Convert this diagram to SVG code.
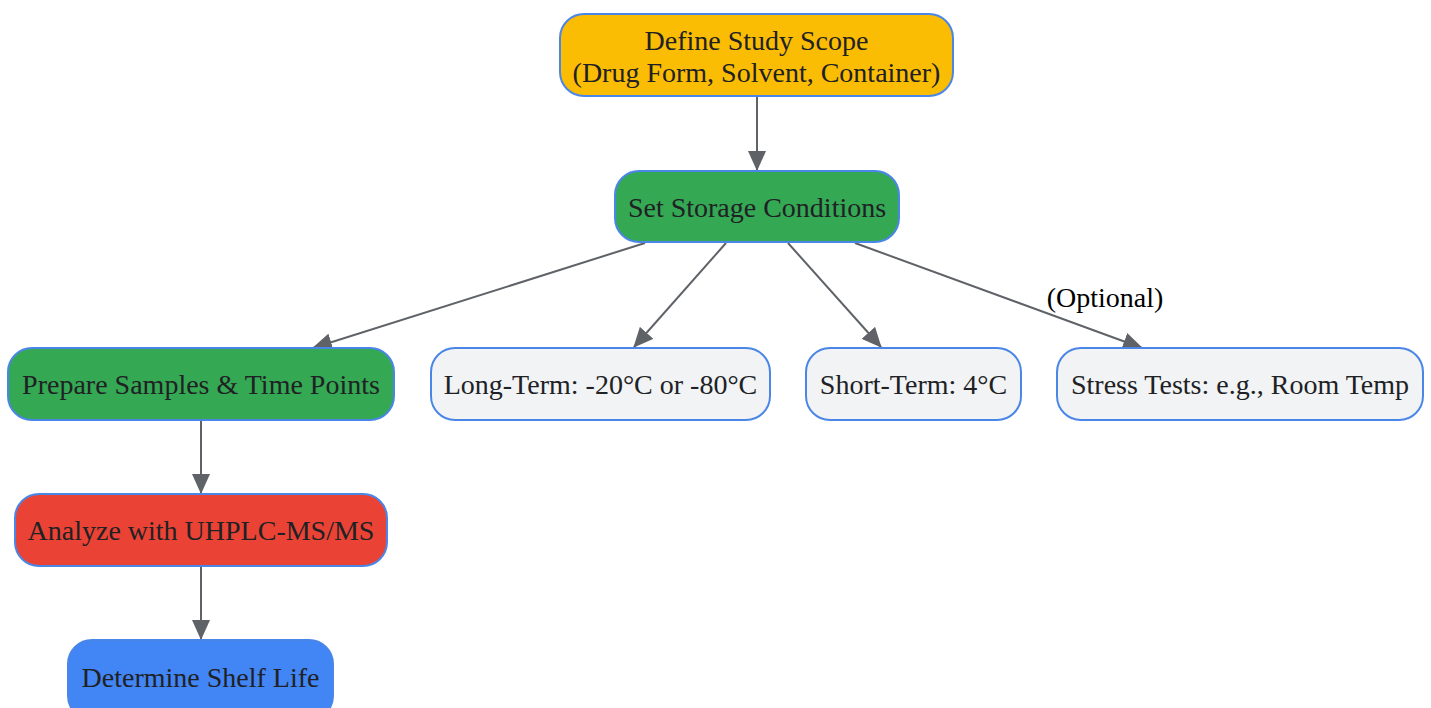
<svg xmlns="http://www.w3.org/2000/svg" width="1431" height="708" viewBox="0 0 1431 708">
<style>
.n{stroke:#4a86e8;stroke-width:2}
.t{font-family:"Liberation Serif","Times New Roman",serif;font-size:28px;fill:#202124;text-anchor:middle;dominant-baseline:central}
.e{stroke:#5f6368;stroke-width:2;fill:none}
.lbl{font-family:"Liberation Serif","Times New Roman",serif;font-size:28px;fill:#000;text-anchor:middle;dominant-baseline:central}
</style>
<defs>
<marker id="ah" markerUnits="userSpaceOnUse" markerWidth="20" markerHeight="18" refX="19" refY="9" orient="auto">
<path d="M0,0 L20,9 L0,18 Z" fill="#5f6368"/>
</marker>
</defs>
<rect width="1431" height="708" fill="#ffffff"/>
<g id="edges">
<line class="e" x1="757" y1="96" x2="757" y2="170" marker-end="url(#ah)"/>
<line class="e" x1="645" y1="243" x2="313" y2="348" marker-end="url(#ah)"/>
<line class="e" x1="726" y1="243" x2="634" y2="347" marker-end="url(#ah)"/>
<line class="e" x1="788" y1="243" x2="881" y2="347" marker-end="url(#ah)"/>
<line class="e" x1="855" y1="243" x2="1142" y2="348" marker-end="url(#ah)"/>
<line class="e" x1="201" y1="420" x2="201" y2="493" marker-end="url(#ah)"/>
<line class="e" x1="201" y1="566" x2="201" y2="639" marker-end="url(#ah)"/>
<text class="lbl" x="1105" y="297">(Optional)</text>
</g>
<g id="define">
<rect class="n" x="560" y="14" width="393" height="82" rx="24" fill="#fbbc04"/>
<text class="t" x="756.5" y="40">Define Study Scope</text>
<text class="t" x="756.5" y="72">(Drug Form, Solvent, Container)</text>
</g>
<g id="storage">
<rect class="n" x="615" y="171" width="284" height="71" rx="24" fill="#34a853"/>
<text class="t" x="757" y="207">Set Storage Conditions</text>
</g>
<g id="prepare">
<rect class="n" x="8" y="348" width="386" height="72" rx="24" fill="#34a853"/>
<text class="t" x="201" y="384">Prepare Samples &amp; Time Points</text>
</g>
<g id="longterm">
<rect class="n" x="431" y="348" width="339" height="72" rx="24" fill="#f1f3f4"/>
<text class="t" x="600.5" y="384">Long-Term: -20°C or -80°C</text>
</g>
<g id="shortterm">
<rect class="n" x="806" y="348" width="215" height="72" rx="24" fill="#f1f3f4"/>
<text class="t" x="913.5" y="384">Short-Term: 4°C</text>
</g>
<g id="stress">
<rect class="n" x="1057" y="348" width="366" height="72" rx="24" fill="#f1f3f4"/>
<text class="t" x="1240" y="384">Stress Tests: e.g., Room Temp</text>
</g>
<g id="analyze">
<rect class="n" x="15" y="494" width="372" height="72" rx="24" fill="#ea4335"/>
<text class="t" x="201" y="530">Analyze with UHPLC-MS/MS</text>
</g>
<g id="determine">
<rect class="n" x="68" y="640" width="265" height="80" rx="24" fill="#4285f4"/>
<text class="t" x="200.5" y="677">Determine Shelf Life</text>
</g>
</svg>
